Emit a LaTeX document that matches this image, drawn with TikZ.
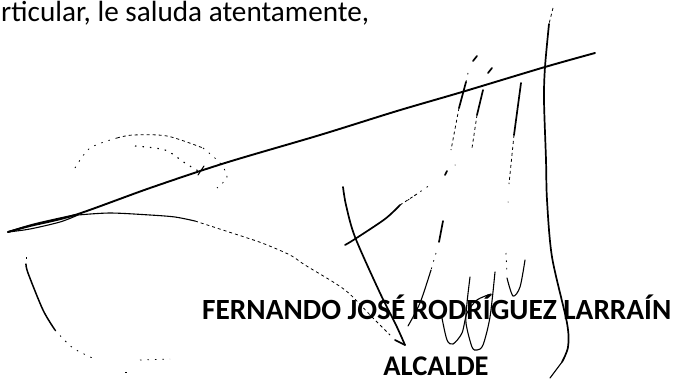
\documentclass[tikz,border=0pt]{standalone}
\usepackage{fontspec}
\setmainfont{Carlito}
\begin{document}
\begin{tikzpicture}[x=1pt,y=-1pt,
  ink/.style={draw=black,line width=1.7pt,line cap=round,line join=round},
  thin ink/.style={draw=black,line width=1.1pt,line cap=round},
  broken/.style={draw=black,line width=.8pt,dash pattern=on 3pt off 3pt},
  speck/.style={draw=black,line width=.8pt,dash pattern=on 1.5pt off 6pt},
  label/.style={inner sep=0pt,text=black}]
\useasboundingbox[fill=white] (0,0) rectangle (675,380);
% text
\node[label,anchor=base west,font=\fontsize{29.2}{32}\selectfont] (closing) at (1,21) {rticular, le saluda atentamente,};
% signature
\draw[ink,line width=1.9pt] plot[smooth] coordinates {(8,232) (30,226) (75,215) (150,188) (225,163) (320,135) (397,111) (462,92) (545,67) (595,53)};
\draw[ink] plot[smooth] coordinates {(8,232) (35,224) (75,215)};
\draw[thin ink] plot[smooth] coordinates {(8,232) (30,229) (60,222) (78,215)};
\draw[thin ink] plot[smooth] coordinates {(78,215) (110,213) (150,215) (175,217) (195,221)};
\draw[broken] plot[smooth] coordinates {(195,221) (232,233) (262,243) (290,255) (305,265) (345,290) (372,317) (390,335)};
% long vertical stroke
\draw[broken] (553,8) -- (549,24);
\draw[ink] plot[smooth] coordinates {(549,24) (545,67) (544,100) (546,160) (547,200) (552,257) (567,323) (568,347) (562,362)};
\draw[thin ink] (562,362) -- (550,378);
% J stroke
\draw[ink] plot[smooth] coordinates {(343,187) (346,205) (355,237) (380,293) (396,325) (405,345)};
\draw[ink] (405,345) -- (395,340);
\draw[ink] plot[smooth] coordinates {(345,245) (355,239) (385,219) (400,205)};
\draw[broken] (400,205) -- (417,194);
% upper strokes
\draw[ink] (477,56) -- (473,61);
\draw[ink] (492,68) -- (488,73);
\draw[speck] (468,73) -- (466,82);
\draw[ink] (466,82) -- (459,108);
\draw[broken] (459,108) -- (451,150);
\draw[ink] (483,90) -- (477,115);
\draw[broken] (477,115) -- (472,148);
\draw[ink] (521,83) -- (514,135);
\draw[broken] (514,135) -- (509,184);
% dotted link
\draw[speck] (408,200) -- (430,185);
\draw[ink] (445,175) -- (447,171);
\node[label,circle,fill=black,minimum size=1pt] (speckA) at (455,165) {};
\node[label,circle,fill=black,minimum size=1pt] (speckB) at (508,202) {};
% lower strokes
\draw[ink] (443,221) -- (439,242);
\draw[speck] (436,253) -- (431,270);
\draw[thin ink] plot[smooth] coordinates {(431,270) (420,303) (408,326)};
\draw[thin ink] plot[smooth] coordinates {(470,277) (467,303) (466,323) (472,347) (477,350) (483,345) (490,317) (495,272)};
\draw[thin ink] plot[smooth] coordinates {(442,318) (447,340) (453,344) (462,333) (467,313) (477,300) (491,294)};
\draw[speck] (506,253) -- (507,275);
\draw[thin ink] plot[smooth] coordinates {(507,278) (513,296) (520,287) (525,260)};
% stamp
\draw[speck] plot[smooth] coordinates {(75,168) (90,148) (117,138)};
\draw[broken] plot[smooth] coordinates {(117,138) (133,135) (167,136) (203,148)};
\draw[speck] plot[smooth] coordinates {(203,148) (220,163) (227,177) (217,188)};
\draw[speck,line width=1.1pt] plot[smooth] coordinates {(135,146) (165,150) (185,163) (200,172)};
\draw[thin ink] (198,175) -- (204,166);
\draw[ink,line width=1.5pt] plot[smooth] coordinates {(26,264) (28,273) (43,310) (55,330)};
\draw[speck] (26,257) -- (26,261);
\draw[speck] plot[smooth] coordinates {(55,330) (73,348) (97,360)};
\draw[speck] (140,360) -- (170,359);
\draw[speck] (125,372) -- (132,372);
% names
\node[label,anchor=base west,font=\fontsize{29.3}{32}\selectfont\bfseries] (name) at (202,319) {FERNANDO JOSÉ RODRÍGUEZ LARRAÍN};
\node[label,anchor=base,font=\fontsize{28.5}{32}\selectfont\bfseries] (role) at (436,375) {ALCALDE};
\end{tikzpicture}
\end{document}
